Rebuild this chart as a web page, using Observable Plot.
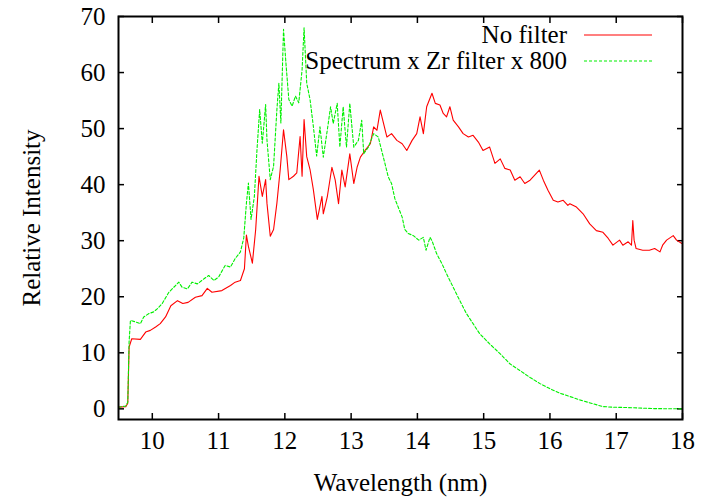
<!DOCTYPE html>
<html><head><meta charset="utf-8">
<script src="https://cdn.jsdelivr.net/npm/d3@7"></script>
<script src="https://cdn.jsdelivr.net/npm/@observablehq/plot@0.6"></script>
<style>
body{margin:0;background:#fff;}
#wrap{position:relative;width:706px;height:499px;font-family:"Liberation Serif",serif;}
#legend{position:absolute;left:0;top:0;pointer-events:none;}
</style></head><body><div id="wrap"></div>
<script>
const seriesNames = ["No filter", "Spectrum x Zr filter x 800"];
const seriesColors = ["#ff0000", "#00f000"];
const xTicks = [10, 11, 12, 13, 14, 15, 16, 17, 18];
const yTicks = [0, 10, 20, 30, 40, 50, 60, 70];

const redX = [9.49,9.60,9.63,9.65,9.69,9.82,9.90,9.97,10.05,10.12,10.20,10.28,10.38,10.46,10.54,10.65,10.75,10.83,10.90,11.05,11.18,11.25,11.33,11.39,11.42,11.45,11.51,11.56,11.61,11.66,11.71,11.73,11.78,11.83,11.88,11.93,11.98,12.03,12.06,12.13,12.18,12.23,12.26,12.29,12.33,12.38,12.43,12.49,12.56,12.58,12.64,12.71,12.76,12.81,12.86,12.91,12.98,13.04,13.09,13.14,13.21,13.29,13.34,13.39,13.44,13.49,13.54,13.61,13.69,13.77,13.84,13.92,13.99,14.04,14.09,14.14,14.22,14.27,14.34,14.39,14.44,14.49,14.54,14.62,14.69,14.77,14.84,14.92,14.99,15.09,15.17,15.25,15.32,15.40,15.47,15.55,15.62,15.70,15.77,15.84,15.90,15.97,16.05,16.12,16.20,16.27,16.30,16.40,16.50,16.60,16.70,16.80,16.88,16.95,17.05,17.10,17.18,17.23,17.25,17.27,17.30,17.40,17.50,17.58,17.66,17.70,17.76,17.86,17.91,17.99];
const redY = [0.3,0.4,1.0,11.0,12.5,12.4,13.7,14.0,14.6,15.2,16.4,18.4,19.3,18.8,19.0,19.9,20.2,21.5,20.8,21.1,22.0,22.6,22.9,25.0,31.0,29.0,26.0,32.0,41.5,37.9,40.9,36.7,30.8,32.0,36.7,42.7,49.8,45.0,40.9,41.5,42.1,48.6,41.5,51.6,45.0,42.7,39.1,33.8,37.9,34.8,37.8,43.1,40.8,36.6,42.6,39.6,45.5,40.2,43.1,44.9,46.1,47.3,50.3,49.7,53.3,50.9,48.5,49.1,47.9,47.3,46.1,47.9,49.1,52.1,49.1,53.9,56.3,54.5,54.2,52.7,52.1,53.9,51.5,50.3,49.1,48.5,48.8,47.6,46.1,46.7,43.8,44.6,42.9,42.6,40.8,41.4,40.2,40.8,41.7,42.6,40.8,39.0,37.2,36.9,37.2,36.3,36.6,36.0,34.8,33.0,31.8,31.5,30.4,29.2,30.1,29.2,29.8,29.2,33.6,30.1,28.6,28.3,28.3,28.6,28.0,29.2,30.1,30.9,30.1,29.5];

const greenX = [9.49,9.60,9.63,9.65,9.67,9.75,9.82,9.87,9.95,10.02,10.08,10.15,10.25,10.35,10.40,10.45,10.53,10.60,10.68,10.78,10.85,10.93,11.00,11.10,11.18,11.25,11.33,11.38,11.42,11.45,11.49,11.54,11.58,11.62,11.66,11.71,11.73,11.78,11.83,11.88,11.91,11.94,11.98,12.02,12.06,12.11,12.16,12.21,12.26,12.29,12.33,12.38,12.43,12.48,12.53,12.58,12.64,12.69,12.73,12.79,12.83,12.88,12.93,12.98,13.04,13.11,13.16,13.19,13.26,13.34,13.41,13.46,13.51,13.56,13.61,13.66,13.71,13.77,13.81,13.86,13.94,14.02,14.09,14.13,14.19,14.22,14.29,14.37,14.44,14.54,14.64,14.74,14.84,14.94,15.09,15.25,15.40,15.55,15.70,15.85,16.00,16.15,16.30,16.45,16.65,16.80,16.95,17.25,17.55,17.99];
const greenY = [0.3,0.5,1.2,12.0,15.8,15.5,15.2,16.4,17.0,17.3,17.9,18.8,20.8,22.0,22.6,21.7,21.4,22.6,22.3,23.2,23.8,22.9,23.5,25.6,25.3,26.8,28.0,30.5,36.7,40.3,33.8,37.9,46.3,53.4,47.4,54.3,48.0,40.9,43.3,53.4,58.1,51.0,67.7,61.1,55.2,54.0,55.8,54.6,60.5,68.0,58.1,55.2,50.4,45.1,50.3,44.9,49.7,53.9,50.9,54.5,46.7,53.9,46.7,54.5,46.7,47.9,51.5,45.5,46.7,49.1,48.5,46.1,43.8,41.4,40.2,37.5,36.0,34.2,32.0,31.3,30.9,30.1,30.6,28.3,30.6,30.0,27.7,25.9,24.1,21.7,19.3,17.0,15.2,13.4,11.6,9.8,8.0,6.8,5.6,4.5,3.6,2.8,2.2,1.6,0.9,0.4,0.3,0.2,0.05,0.0];

const red = redX.map((x, i) => ({x, y: redY[i]}));
const green = greenX.map((x, i) => ({x, y: greenY[i]}));

const blank = () => "";
const chart = Plot.plot({
  width: 706, height: 499,
  marginLeft: 118, marginRight: 24, marginTop: 16, marginBottom: 80,
  style: {fontFamily: "Liberation Serif", fontSize: "25px", color: "#000", background: "#fff", overflow: "visible"},
  x: {domain: [9.49, 18]},
  y: {domain: [-1.9, 70]},
  marks: [
    Plot.axisX(xTicks, {anchor: "bottom", tickSize: 6, dy: -6, tickFormat: blank, label: null, strokeWidth: 1.5}),
    Plot.axisX(xTicks, {anchor: "top", tickSize: 6, dy: 6, tickFormat: blank, label: null, strokeWidth: 1.5}),
    Plot.axisY(yTicks, {anchor: "left", tickSize: 6, dx: 6, tickFormat: blank, label: null, strokeWidth: 1.5}),
    Plot.axisY(yTicks, {anchor: "right", tickSize: 6, dx: -6, tickFormat: blank, label: null, strokeWidth: 1.5}),
    Plot.axisX(xTicks, {anchor: "bottom", tickSize: 0, tickPadding: 12, label: "Wavelength (nm)", labelAnchor: "center", labelArrow: "none", labelOffset: 71}),
    Plot.axisY(yTicks, {anchor: "left", tickSize: 0, tickPadding: 13, label: "Relative Intensity", labelAnchor: "center", labelArrow: "none", labelOffset: 96}),
    Plot.line(red, {x: "x", y: "y", stroke: seriesColors[0], strokeWidth: 1.1}),
    Plot.line(green, {x: "x", y: "y", stroke: seriesColors[1], strokeWidth: 1.1, strokeDasharray: "3,2"}),
    Plot.frame({stroke: "#000", strokeWidth: 2})
  ]
});
const wrap = document.getElementById("wrap");
wrap.appendChild(chart);

// legend (overlay)
const ns = "http://www.w3.org/2000/svg";
const lg = document.createElementNS(ns, "svg");
lg.setAttribute("id", "legend");
lg.setAttribute("width", 706);
lg.setAttribute("height", 90);
seriesNames.forEach((name, i) => {
  const yc = 35 + i * 26;
  const t = document.createElementNS(ns, "text");
  t.setAttribute("x", 567);
  t.setAttribute("y", yc);
  t.setAttribute("dy", "0.33em");
  t.setAttribute("text-anchor", "end");
  t.setAttribute("font-family", "Liberation Serif");
  t.setAttribute("font-size", 25);
  t.setAttribute("fill", "#000");
  t.textContent = name;
  lg.appendChild(t);
  const l = document.createElementNS(ns, "line");
  l.setAttribute("x1", 584); l.setAttribute("x2", 652);
  l.setAttribute("y1", yc); l.setAttribute("y2", yc);
  l.setAttribute("stroke", seriesColors[i]);
  l.setAttribute("stroke-width", 1.1);
  if (i === 1) l.setAttribute("stroke-dasharray", "3,2");
  lg.appendChild(l);
});
wrap.appendChild(lg);
</script>
</body></html>
